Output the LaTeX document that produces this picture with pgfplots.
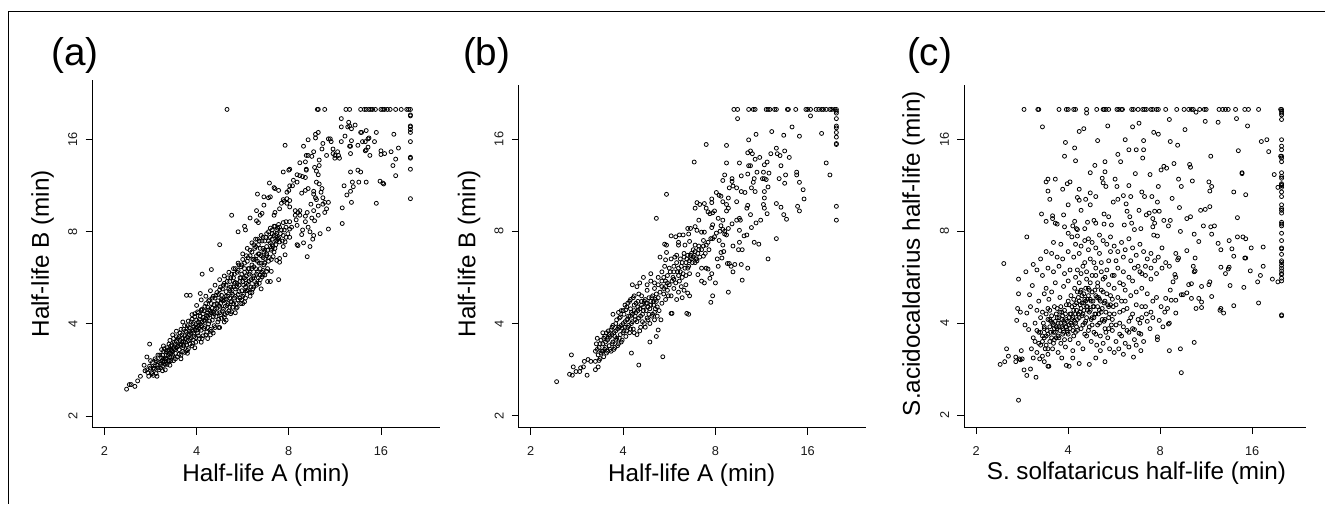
\documentclass[border=0pt]{standalone}
\usepackage{fontspec}
\setmainfont{Liberation Sans}
\usepackage{pgfplots}
\pgfplotsset{compat=1.18}
\pgfplotsset{rstyle/.style={
  scale only axis, anchor=south west,
  axis x line*=bottom, axis y line*=left,
  axis line style={-,line width=0.6pt,black},
  tick style={black,line width=0.5pt},
  major tick length=5.2pt, tick align=outside,
  xtick={1,2,3,4}, ytick={1,2,3,4},
  xticklabels={2,4,8,16}, yticklabels={2,4,8,16},
  ticklabel style={font=\fontsize{9.6}{10}\selectfont,text=black!90},
  xticklabel style={yshift=-5.5pt},
  yticklabel style={rotate=90,anchor=south,inner sep=0pt,xshift=0pt,yshift=6pt},
  clip=false},
  pts/.style={only marks,mark=o,mark size=1.5pt,mark options={line width=0.6pt,black,fill=none}}}
\newcommand{\lab}{\fontsize{18.2}{20}\selectfont}
\newcommand{\pan}{\fontsize{29}{32}\selectfont}
\begin{document}
\begin{tikzpicture}
\path (0pt,0pt) rectangle (994.5pt,-378pt);
\draw[black,line width=0.85pt] (6.2pt,-378pt) -- (6.2pt,-8.4pt) -- (994.5pt,-8.4pt);
\node at (56.2pt,-42pt) {\pan (a)};
\node at (365.2pt,-42pt) {\pan (b)};
\node at (697.5pt,-42pt) {\pan (c)};
\node at (199.5pt,-356.2pt) {\lab Half-life A (min)};
\node at (519pt,-356.2pt) {\lab Half-life A (min)};
\node at (852.7pt,-354.7pt) {\lab S. solfataricus half-life (min)};
\node[rotate=90] at (32pt,-190.5pt) {\lab Half-life B (min)};
\node[rotate=90] at (352pt,-190.5pt) {\lab Half-life B (min)};
\node[rotate=90] at (685.5pt,-190.3pt) {\lab S.acidocaldarius half-life (min)};

\begin{axis}[rstyle,at={(69.4pt,-321pt)},width=260.6pt,height=261pt,xmin=0.87,xmax=4.639,ymin=0.87,ymax=4.65]
\addplot[pts] coordinates {
(2.33,4.33)(3.31,4.33)(3.32,4.33)(3.39,4.33)(3.62,4.33)(3.66,4.33)(3.78,4.33)(3.82,4.33)(3.84,4.33)(3.87,4.33)(3.89,4.33)(3.91,4.33)(3.94,4.33)(4.00,4.33)(4.02,4.33)(4.04,4.33)(4.07,4.33)(4.10,4.33)(4.16,4.33)(4.22,4.33)(4.28,4.33)(4.30,4.33)(4.32,4.33)
(4.32,4.26)(4.32,4.27)(4.32,4.15)(4.32,4.14)(4.32,4.11)(4.32,4.08)(4.32,3.98)(4.32,3.81)(4.32,3.80)(4.32,3.68)(4.32,3.36)
(3.57,4.23)(3.57,4.14)(3.65,4.19)(3.66,4.15)(3.64,4.14)(3.68,4.12)(3.72,4.16)(3.61,4.04)(3.57,3.98)(3.68,3.99)(3.84,4.10)(3.78,4.08)(3.79,4.08)(3.86,4.01)(3.87,4.02)(3.83,3.98)(3.95,4.08)(4.14,4.06)(3.45,4.01)(3.43,4.01)(3.48,3.90)(3.53,3.87)(3.54,3.83)(3.50,3.83)(3.48,3.85)(3.55,3.80)(3.50,3.80)(3.41,3.83)(3.46,3.98)
(3.58,3.26)(3.58,3.09)(3.68,3.32)(3.63,3.40)(3.67,3.44)(3.70,3.49)(3.69,3.54)(3.60,3.50)(3.67,3.65)(3.75,3.67)(3.78,3.65)(3.76,3.54)(3.84,3.54)(3.95,3.31)(3.99,3.55)(4.02,3.53)(4.03,3.52)(4.16,3.61)(4.13,3.72)(4.16,3.79)(4.19,3.91)(4.11,3.87)(4.04,3.85)(4.00,3.84)(4.00,3.88)(3.93,3.98)(3.88,3.83)(3.84,3.89)(3.86,3.92)(3.83,3.88)(3.80,3.98)(3.75,3.94)(3.66,3.93)(3.67,3.93)(3.67,3.85)
(3.00,3.67)(3.01,3.68)(3.05,3.56)(3.09,3.62)(3.12,3.61)(3.15,3.60)(3.18,3.59)(3.09,3.54)(3.14,3.42)(3.18,3.45)(3.21,3.47)(3.12,3.75)(3.18,3.76)(3.21,3.83)(3.19,3.83)(3.25,3.82)(3.16,3.93)(3.21,4.00)(3.29,4.06)(3.32,4.08)(3.29,4.02)(3.37,3.96)(3.36,3.90)(3.27,3.87)(3.33,3.78)(3.33,3.72)(3.28,3.70)(3.30,3.66)(3.19,3.68)(3.19,3.67)(3.32,3.62)(3.30,3.54)(3.33,3.52)(3.36,3.47)(3.35,3.43)(3.27,3.44)(3.27,3.41)(3.29,3.37)(3.30,3.35)(3.24,3.30)(3.32,3.28)(3.37,3.37)(3.39,3.32)(3.43,3.32)(3.37,3.30)(3.41,3.25)(3.39,3.21)(3.32,3.18)(3.27,3.23)(3.20,3.21)(3.18,3.17)(3.25,3.15)(3.28,3.12)(3.18,3.11)(3.21,3.05)(3.15,3.02)(3.14,2.97)(3.23,3.00)(3.27,2.96)(3.34,2.98)(3.43,3.03)(3.26,2.92)(3.16,2.88)(3.23,2.84)(3.09,2.86)(3.10,2.85)(3.20,2.73)
(2.06,2.54)(2.16,2.59)(2.25,2.86)(2.38,3.18)(2.58,3.15)(2.66,3.41)(2.79,3.53)(2.84,3.48)(2.85,3.47)(2.89,3.45)(2.94,3.65)(2.96,3.94)(2.92,3.31)(2.94,3.35)(2.98,3.36)(3.01,3.34)(3.00,3.45)(2.98,3.43)(3.04,3.50)(3.01,3.50)(2.95,3.33)(2.98,3.31)(3.01,3.27)(2.90,3.25)(2.85,3.21)(2.84,3.18)(2.71,3.20)(2.69,3.18)(2.65,3.23)(2.73,3.29)(2.80,3.38)(2.78,3.37)(2.73,3.38)(2.65,3.12)(2.67,3.10)(2.52,3.06)(2.53,3.02)(2.45,3.00)
(3.07,3.23)(3.10,3.21)(3.12,3.23)(3.07,3.18)(3.12,3.18)(3.08,3.13)(3.09,3.07)(3.01,3.11)(3.03,3.05)(2.97,3.11)(2.94,3.10)(2.97,3.05)(3.01,3.03)(2.92,3.02)(2.90,3.05)(2.87,2.91)(2.90,2.89)(2.96,2.89)(2.94,2.84)(3.01,2.94)(2.99,2.98)(2.94,2.96)(2.89,2.93)(2.81,2.82)(2.85,2.82)(2.83,2.73)(2.87,2.69)(2.90,2.71)(2.96,2.75)(2.90,2.67)(2.74,2.71)(2.76,2.74)(2.81,2.70)(2.69,2.53)(2.74,2.53)(2.71,2.51)(2.76,2.57)(2.62,2.40)(2.65,2.42)(2.56,2.37)(2.54,2.44)
(2.89,2.48)(2.77,2.46)(2.80,2.46)(2.49,2.26)(2.25,1.96)(2.37,2.11)(2.38,2.24)(2.72,2.53)(2.81,2.57)
(1.24,1.29)(1.27,1.34)(1.29,1.34)(1.33,1.32)(1.36,1.38)(1.39,1.43)(1.43,1.55)(1.44,1.49)(1.46,1.64)(1.49,1.78)
(1.46,1.50)(1.48,1.43)(1.49,1.54)(1.51,1.47)(1.52,1.58)(1.53,1.44)(1.54,1.51)(1.55,1.62)(1.56,1.46)(1.57,1.43)(1.57,1.55)(1.58,1.66)(1.59,1.50)(1.60,1.58)(1.61,1.52)(1.62,1.63)(1.63,1.54)(1.64,1.70)(1.65,1.59)(1.66,1.50)(1.67,1.66)(1.68,1.74)(1.69,1.60)(1.70,1.68)(1.71,1.55)(1.72,1.76)(1.73,1.64)(1.74,1.70)(1.75,1.60)(1.76,1.80)(1.77,1.68)(1.78,1.74)(1.79,1.64)(1.80,1.84)(1.81,1.72)(1.82,1.78)(1.83,1.66)(1.84,1.88)(1.85,1.74)(1.86,1.81)(1.87,1.69)(1.88,1.92)(1.89,1.77)(1.90,1.86)(1.91,1.73)(1.92,1.96)(1.93,1.83)(1.94,1.90)(1.95,1.76)(1.96,2.00)(1.97,1.86)(1.98,1.94)(1.99,1.80)(2.00,2.04)(2.01,1.90)(2.02,1.98)(2.03,1.84)(2.04,2.08)(2.05,1.93)(2.06,2.02)(2.07,1.87)(2.08,2.14)(2.09,1.97)(2.10,2.06)(2.11,1.91)(2.12,2.18)(2.13,2.00)(2.14,2.10)(2.15,1.94)(2.16,2.22)(2.17,2.04)(2.18,2.13)(2.19,1.98)(2.20,2.28)(2.21,2.08)(2.22,2.17)(2.23,2.02)(2.24,2.32)(2.25,2.12)(2.26,2.22)(2.27,2.06)(2.28,2.38)(2.29,2.16)(2.30,2.26)(2.31,2.10)(2.32,2.42)(2.33,2.20)(2.34,2.30)(2.35,2.14)(2.36,2.46)(2.37,2.24)(2.38,2.34)(2.39,2.18)(2.40,2.50)(2.41,2.28)(2.42,2.38)(2.43,2.22)(2.44,2.56)(2.45,2.32)(2.46,2.42)(2.47,2.28)(2.48,2.62)(2.49,2.36)(2.50,2.46)(2.51,2.32)(2.52,2.66)(2.53,2.40)(2.54,2.52)(2.55,2.36)(2.56,2.72)(2.57,2.46)(2.58,2.56)(2.59,2.40)(2.60,2.78)(2.61,2.50)(2.62,2.62)(2.63,2.46)(2.64,2.84)(2.65,2.54)(2.66,2.68)(2.67,2.50)(2.68,2.90)(2.69,2.60)(2.70,2.74)(2.71,2.56)(2.72,2.94)(2.73,2.64)(2.74,2.80)(2.76,2.98)(2.78,2.68)(2.80,2.88)(2.82,3.02)(2.84,2.78)(2.86,2.96)(2.88,3.04)
(1.62,1.72)(1.66,1.62)(1.70,1.78)(1.72,1.68)(1.76,1.72)(1.78,1.86)(1.80,1.76)(1.82,1.90)(1.84,1.80)(1.86,1.94)(1.88,1.84)(1.90,1.98)(1.92,1.88)(1.94,2.02)(1.96,1.92)(1.98,2.08)(2.00,1.96)(2.02,2.12)(2.04,2.00)(2.06,2.16)(2.08,2.04)(2.10,2.22)(2.12,2.08)(2.14,2.26)(2.16,2.12)(2.18,2.30)(2.20,2.16)(2.22,2.34)(2.24,2.20)(2.26,2.40)(2.28,2.26)(2.30,2.44)(2.32,2.30)(2.34,2.50)(2.36,2.36)(2.38,2.54)(2.40,2.40)(2.42,2.60)(2.44,2.44)(2.46,2.64)(2.48,2.50)(2.50,2.70)(2.52,2.56)(2.54,2.74)(2.56,2.60)(2.58,2.80)(2.60,2.64)(2.62,2.86)(2.64,2.70)(2.66,2.92)(2.68,2.76)(2.70,2.96)(2.72,2.82)(2.74,2.90)(2.76,2.84)(2.78,3.00)(2.80,2.94)(2.82,2.86)(2.84,3.06)(2.86,2.90)
(1.64,1.76)(1.74,1.88)(1.78,1.92)(1.85,2.02)(1.89,2.31)(1.93,2.31)(2.04,2.33)(1.95,2.10)(2.00,2.20)(2.05,2.26)(2.10,2.30)(2.15,2.36)(2.20,2.42)(2.25,2.48)(2.30,2.52)(2.35,2.56)(2.40,2.60)(2.45,2.66)(2.50,2.76)(2.55,2.82)(2.60,2.88)(2.64,2.92)
(1.83,1.62)(1.90,1.68)(1.98,1.74)(2.05,1.80)(2.12,1.84)(2.15,1.88)(2.18,1.90)(2.24,1.96)(2.30,2.02)(2.32,2.04)(2.42,2.12)(2.44,2.18)(2.50,2.22)(2.52,2.24)(2.58,2.30)(2.60,2.34)(2.68,2.44)(2.70,2.38)
(1.47,1.47)(1.50,1.60)(1.53,1.52)(1.58,1.59)(1.63,1.60)(1.67,1.70)(1.72,1.72)(1.77,1.78)(1.82,1.82)(1.87,1.87)(1.92,1.92)(1.97,1.97)(2.02,2.02)(2.07,2.07)(2.12,2.12)(2.17,2.17)(2.22,2.22)(2.27,2.27)(2.32,2.35)(2.37,2.40)(2.42,2.45)(2.47,2.50)(2.52,2.50)(2.57,2.60)(2.62,2.70)(2.67,2.76)(2.72,2.72)(2.77,2.80)(2.82,2.92)(2.87,2.98)
(1.63,1.66)(1.65,1.73)(1.67,1.58)(1.69,1.71)(1.71,1.64)(1.71,1.82)(1.73,1.77)(1.75,1.73)(1.75,1.84)(1.77,1.62)(1.78,1.81)(1.79,1.75)(1.81,1.86)(1.81,1.67)(1.83,1.77)(1.83,1.94)(1.85,1.84)(1.85,1.70)(1.86,1.76)(1.87,1.98)(1.88,1.80)(1.89,1.91)(1.90,1.71)(1.91,1.82)(1.91,2.03)(1.93,1.95)(1.93,1.78)(1.94,1.85)(1.95,2.05)(1.96,1.79)(1.97,1.90)(1.98,2.11)(1.99,1.99)(1.99,1.85)(2.00,1.93)(2.01,2.13)(2.02,1.87)(2.03,2.05)(2.03,1.95)(2.05,2.15)(2.05,1.98)(2.06,1.84)(2.07,2.11)(2.08,1.95)(2.09,2.19)(2.09,2.03)(2.10,1.88)(2.11,2.09)(2.12,1.96)(2.13,2.25)(2.13,2.15)(2.14,2.03)(2.15,2.14)(2.16,1.92)(2.17,2.28)(2.18,2.08)(2.19,2.21)(2.19,2.11)(2.20,1.96)(2.21,2.31)(2.22,2.12)(2.23,2.25)(2.24,2.05)(2.25,2.19)(2.25,2.37)(2.26,2.10)(2.27,2.31)(2.28,2.14)(2.29,2.25)(2.29,2.42)(2.30,2.07)(2.31,2.19)(2.32,2.27)(2.33,2.46)(2.33,2.12)(2.34,2.22)(2.35,2.38)(2.36,2.18)(2.36,2.28)(2.37,2.50)(2.38,2.13)(2.39,2.32)(2.40,2.22)(2.41,2.44)(2.41,2.54)(2.42,2.30)(2.43,2.17)(2.44,2.40)(2.45,2.26)(2.45,2.58)(2.46,2.35)(2.47,2.46)(2.48,2.22)(2.49,2.54)(2.49,2.64)(2.50,2.30)(2.51,2.42)(2.52,2.60)(2.53,2.28)(2.53,2.48)(2.54,2.36)(2.55,2.68)(2.56,2.43)(2.57,2.54)(2.58,2.34)(2.58,2.74)(2.59,2.48)(2.60,2.60)(2.61,2.38)(2.61,2.70)(2.62,2.52)(2.63,2.82)(2.64,2.60)(2.65,2.44)(2.65,2.74)(2.66,2.56)(2.67,2.86)(2.68,2.66)(2.69,2.48)(2.69,2.82)(2.70,2.66)(2.71,2.90)(2.72,2.58)(2.73,2.78)(2.74,2.66)(2.75,2.94)(2.76,2.76)(2.77,2.60)(2.78,2.90)(2.79,2.72)(2.80,3.04)(2.81,2.80)(2.82,2.98)(2.83,2.84)(2.84,2.96)(2.85,3.06)(2.86,2.86)(2.87,3.02)(2.88,2.92)(2.89,3.08)(2.91,2.98)(2.93,2.90)(2.95,3.02)(2.97,2.94)
(1.50,1.52)(1.52,1.46)(1.55,1.54)(1.56,1.60)(1.58,1.52)(1.60,1.66)(1.61,1.56)(1.63,1.49)(1.64,1.62)(1.66,1.56)(1.67,1.62)(1.68,1.56)(1.69,1.66)(1.70,1.60)(1.70,1.72)(1.72,1.60)(1.73,1.71)(1.74,1.66)
};
\end{axis}

\begin{axis}[rstyle,at={(389.25pt,-321pt)},width=260.8pt,height=257.25pt,xmin=0.87,xmax=4.635,ymin=0.87,ymax=4.585]
\addplot[pts] coordinates {
(3.20,4.32)(3.24,4.32)(3.36,4.32)(3.41,4.32)(3.43,4.32)(3.55,4.32)(3.57,4.32)(3.59,4.32)(3.64,4.32)(3.66,4.32)(3.78,4.32)(3.79,4.32)(3.87,4.32)(3.98,4.32)(4.00,4.32)(4.03,4.32)(4.09,4.32)(4.12,4.32)(4.15,4.32)(4.17,4.32)(4.20,4.32)(4.24,4.32)(4.26,4.32)(4.29,4.32)(4.31,4.32)
(4.31,4.30)(4.31,4.28)(4.31,4.22)(4.31,4.14)(4.31,4.12)(4.31,4.07)(4.31,4.02)(4.31,3.95)(4.31,3.94)(4.31,3.27)(4.31,3.12)
(3.24,4.22)(4.03,4.25)(3.83,4.13)(3.61,4.08)(3.74,4.04)(3.91,4.03)(4.15,4.06)(3.44,4.05)(3.36,3.99)(2.90,3.94)(3.12,3.93)(2.77,3.75)(3.12,3.74)(3.26,3.74)(3.66,3.90)(3.75,3.87)(3.67,3.84)(3.60,3.84)(3.48,3.80)(3.80,3.80)(3.70,3.82)(3.35,3.85)(3.38,3.87)(3.40,3.84)(3.43,3.78)(3.56,3.75)(3.53,3.72)(3.71,3.71)(3.36,3.71)(3.38,3.71)(4.20,3.74)(4.24,3.61)(3.88,3.64)(3.88,3.61)(3.76,3.61)(3.91,3.53)(3.75,3.52)(3.69,3.57)(3.58,3.63)(3.52,3.64)(3.45,3.64)(3.53,3.57)(3.51,3.57)(3.55,3.56)(3.42,3.57)(3.41,3.53)(3.39,3.47)(3.43,3.43)(3.28,3.60)(3.35,3.62)(3.10,3.61)(3.18,3.57)(3.08,3.55)(3.18,3.54)(3.15,3.47)(3.19,3.49)(3.23,3.47)(3.28,3.43)(3.32,3.42)(3.57,3.48)(3.53,3.43)(3.53,3.36)(3.95,3.45)(3.96,3.35)(3.89,3.27)(3.91,3.22)(3.52,3.29)(3.66,3.30)(3.71,3.26)(3.74,3.18)(3.77,3.13)(3.56,3.19)(3.53,3.25)(3.23,3.32)(3.34,3.25)(3.35,3.28)(3.38,3.18)(3.49,3.12)(3.44,3.09)(3.39,3.04)(3.26,3.14)(3.27,3.12)(3.23,3.12)(3.18,3.08)(3.26,3.01)(3.34,2.96)(3.31,2.95)(3.26,2.88)(3.19,2.84)(3.25,2.80)(3.29,2.80)(3.42,2.88)(3.47,2.86)(3.66,2.92)(3.57,2.70)(3.28,2.64)(3.35,2.60)(3.29,2.47)(3.14,2.34)(3.19,2.56)(3.17,2.62)(3.15,2.65)(3.21,2.64)
(3.01,3.42)(3.04,3.39)(3.06,3.38)(2.96,3.35)(2.96,3.31)(2.88,3.30)(2.80,3.31)(2.83,3.29)(2.78,3.25)(2.90,3.25)(2.92,3.21)(2.94,3.19)(2.99,3.22)(2.97,3.20)(3.03,3.14)(3.08,3.12)(2.82,3.12)(3.12,3.29)(3.14,3.25)(3.12,3.22)(3.14,3.36)(3.08,3.32)(2.47,3.40)(2.36,3.14)(2.52,2.95)(2.57,2.94)(2.61,2.96)(2.65,2.96)(2.71,2.97)(2.70,3.03)(2.73,3.03)(2.78,3.05)(2.80,3.01)(2.85,2.99)(2.88,2.99)(2.97,3.07)(2.96,3.04)(3.06,3.06)(3.08,3.02)(3.10,3.00)(3.14,3.03)(3.05,3.00)(3.01,2.98)(2.99,2.94)(2.97,2.92)(3.10,2.97)(3.12,2.96)(3.04,2.90)(3.08,2.85)(3.06,2.77)(3.09,2.78)(3.02,2.70)(3.07,2.71)(3.03,2.62)(3.13,2.65)(3.00,2.44)(2.97,2.30)(2.95,2.23)(2.96,2.54)(2.94,2.49)(2.88,2.44)(2.85,2.46)(2.81,2.53)(2.85,2.60)(2.92,2.59)(2.90,2.60)(2.87,2.73)(2.81,2.76)(2.90,2.85)(2.92,2.88)(2.87,2.90)(2.78,2.85)(2.72,2.89)(2.67,2.85)(2.60,2.85)(2.60,2.88)(2.47,2.85)(2.45,2.86)(2.47,2.77)(2.40,2.72)(2.46,2.69)(2.45,2.62)
(1.28,1.37)(1.44,1.66)(1.42,1.45)(1.46,1.53)(1.45,1.44)(1.49,1.48)(1.53,1.48)(1.54,1.52)(1.57,1.53)(1.58,1.59)(1.61,1.44)(1.62,1.61)(1.65,1.59)(1.70,1.59)(1.70,1.50)(1.73,1.53)(2.17,1.55)(2.09,1.68)(2.43,1.64)(2.29,1.80)(2.36,1.86)(2.38,1.93)(2.52,2.11)(2.53,2.11)(2.69,2.11)(2.71,2.10)(1.89,2.10)
(1.70,1.70)(1.71,1.78)(1.73,1.66)(1.74,1.74)(1.75,1.62)(1.76,1.82)(1.77,1.70)(1.78,1.78)(1.79,1.64)(1.80,1.86)(1.81,1.74)(1.82,1.68)(1.83,1.82)(1.84,1.92)(1.85,1.76)(1.86,1.86)(1.87,1.70)(1.88,1.96)(1.89,1.80)(1.90,1.90)(1.91,1.74)(1.92,2.00)(1.93,1.84)(1.94,1.94)(1.95,1.78)(1.96,2.06)(1.97,1.88)(1.98,1.98)(1.99,1.82)(2.00,2.14)(2.01,1.92)(2.02,2.02)(2.03,1.86)(2.04,2.18)(2.05,1.96)(2.06,2.08)(2.07,1.90)(2.08,2.16)(2.09,2.00)(2.10,2.10)(2.11,1.94)(2.12,2.20)(2.13,2.04)(2.14,2.12)(2.15,1.88)(2.16,2.24)(2.17,2.06)(2.18,2.16)(2.19,1.96)(2.20,2.24)(2.21,2.10)(2.22,2.18)(2.23,2.00)(2.24,2.26)(2.25,2.14)(2.26,2.22)(2.27,2.04)(2.28,2.28)(2.29,2.16)(2.30,2.24)(2.31,2.08)(2.32,2.30)(2.33,2.20)(2.34,2.12)(2.35,2.26)(2.36,2.32)(2.37,2.18)
(1.72,1.84)(1.78,1.90)(1.84,1.84)(1.88,1.88)(1.92,1.92)(1.96,1.96)(2.00,2.00)(2.04,2.04)(2.08,2.08)(2.12,2.14)(2.16,2.18)(2.20,2.20)(2.05,2.22)(2.08,2.26)(2.02,2.20)(1.98,2.14)(1.95,2.12)(2.12,2.30)(2.15,2.40)(2.10,2.42)(2.18,2.44)(2.22,2.50)(2.26,2.42)(2.30,2.54)(2.34,2.44)(2.38,2.50)(2.42,2.56)(2.46,2.46)(2.50,2.60)(2.54,2.50)(2.58,2.66)(2.62,2.56)(2.66,2.72)(2.70,2.60)(2.74,2.76)(2.78,2.66)(2.82,2.84)
(2.26,2.36)(2.30,2.46)(2.34,2.38)(2.38,2.42)(2.42,2.46)(2.44,2.38)(2.48,2.52)(2.50,2.42)(2.52,2.70)(2.55,2.62)(2.56,2.72)(2.58,2.74)(2.60,2.60)(2.62,2.70)(2.64,2.66)(2.66,2.76)(2.68,2.66)(2.70,2.74)(2.72,2.68)(2.74,2.70)(2.76,2.72)(2.78,2.78)(2.80,2.68)(2.82,2.80)(2.76,2.80)(2.55,2.38)(2.60,2.34)(2.63,2.40)(2.66,2.36)(2.68,2.42)(2.72,2.30)(2.70,2.33)(2.64,2.28)(2.58,2.26)(2.52,2.30)(2.46,2.26)(2.42,2.22)(2.44,2.32)(2.48,2.36)(2.55,2.48)(2.60,2.52)(2.64,2.50)(2.68,2.52)(2.72,2.54)
(1.72,1.72)(1.74,1.60)(1.75,1.78)(1.76,1.68)(1.78,1.70)(1.79,1.84)(1.80,1.72)(1.81,1.80)(1.82,1.90)(1.83,1.70)(1.85,1.88)(1.86,1.72)(1.87,1.93)(1.88,1.78)(1.89,1.98)(1.90,1.72)(1.91,1.86)(1.92,1.82)(1.93,2.04)(1.94,1.76)(1.95,1.96)(1.96,1.84)(1.97,2.07)(1.98,1.80)(1.99,1.95)(2.00,1.90)(2.01,2.10)(2.02,1.96)(2.03,2.15)(2.04,1.92)(2.05,2.05)(2.06,1.98)(2.07,2.24)(2.08,1.94)(2.09,2.12)(2.10,2.02)(2.11,2.28)(2.12,1.90)(2.13,2.08)(2.14,2.22)(2.15,2.02)(2.16,2.14)(2.17,2.32)(2.18,1.92)(2.19,2.08)(2.20,2.30)(2.21,2.02)(2.22,2.14)(2.23,2.24)(2.24,1.96)(2.25,2.22)(2.26,2.06)(2.27,2.18)(2.28,2.10)(2.29,2.00)(2.30,2.20)(2.31,2.28)(2.32,2.10)(2.33,2.24)(2.34,2.04)(2.35,2.16)(2.36,2.24)(2.37,2.08)(2.38,2.28)(2.39,2.14)(2.40,2.34)(2.41,2.04)(2.42,2.40)(2.44,2.50)(2.46,2.40)(2.48,2.44)(2.49,2.30)(2.51,2.56)(2.53,2.46)(2.55,2.56)(2.57,2.44)(2.59,2.56)(2.61,2.46)(2.63,2.62)(2.65,2.54)(2.67,2.60)(2.69,2.70)(2.71,2.62)(2.73,2.74)(2.75,2.66)(2.77,2.74)(2.79,2.70)(2.83,2.72)(2.85,2.80)(2.87,2.84)(2.89,2.76)(2.93,2.80)(2.95,2.92)
};
\end{axis}

\begin{axis}[rstyle,at={(723.5pt,-320.5pt)},width=256.5pt,height=256.7pt,xmin=0.87,xmax=4.587,ymin=0.866,ymax=4.596]
\addplot[pts] coordinates {
(1.52,4.33)(1.67,4.33)(1.68,4.33)(1.90,4.33)(1.98,4.33)(2.00,4.33)(2.06,4.33)(2.08,4.33)(2.20,4.33)(2.20,4.29)(2.31,4.33)(2.38,4.33)(2.39,4.33)(2.41,4.33)(2.44,4.33)(2.53,4.33)(2.55,4.33)(2.58,4.33)(2.59,4.33)(2.69,4.33)(2.71,4.33)(2.76,4.33)(2.81,4.33)(2.83,4.33)(2.85,4.33)(2.90,4.33)(2.92,4.33)(2.96,4.33)(2.98,4.33)(3.06,4.33)(3.18,4.33)(3.26,4.33)(3.31,4.33)(3.34,4.33)(3.36,4.33)(3.39,4.30)(3.43,4.33)(3.48,4.33)(3.50,4.33)(3.64,4.33)(3.68,4.33)(3.71,4.33)(3.74,4.33)(3.82,4.33)(3.92,4.33)(3.96,4.33)(4.07,4.33)(4.31,4.33)
(4.32,4.33)(4.32,4.31)(4.32,4.29)(4.32,4.27)(4.32,4.22)(4.32,4.00)(4.32,3.93)(4.32,3.89)(4.32,3.82)(4.31,3.82)(4.32,3.80)(4.32,3.76)(4.32,3.64)(4.32,3.60)(4.32,3.58)(4.32,3.52)(4.32,3.51)(4.32,3.50)(4.32,3.48)(4.32,3.43)(4.32,3.38)(4.32,3.29)(4.32,3.25)(4.32,3.23)(4.32,3.20)(4.32,3.10)(4.32,3.08)(4.32,3.06)(4.32,2.98)(4.32,2.90)(4.32,2.82)(4.32,2.81)(4.32,2.75)(4.32,2.68)(4.32,2.66)(4.32,2.63)(4.32,2.60)(4.32,2.57)(4.32,2.54)(4.32,2.53)(4.32,2.49)(4.32,2.46)(4.32,2.09)(4.32,2.08)
(4.24,3.62)(4.28,3.48)(4.10,3.98)(4.16,4.00)(4.18,3.87)(3.95,4.15)(3.83,4.23)(3.85,3.88)(3.63,4.19)(3.49,4.20)(3.55,3.82)(3.27,4.11)(3.19,3.94)(3.11,3.98)(3.10,4.22)(2.98,4.06)(2.93,4.08)(2.62,4.00)(2.82,3.99)(2.74,3.89)(2.66,3.89)(2.82,3.89)(2.81,3.80)(2.54,3.84)(2.57,3.76)(2.77,4.18)(2.70,4.14)(2.43,4.15)(2.32,3.99)(2.17,4.12)(2.12,4.09)(1.72,4.14)(2.07,3.91)(1.97,3.97)(1.96,3.82)(2.08,3.77)(2.29,3.72)(2.40,3.76)(2.40,3.65)(2.24,3.64)(2.37,3.58)(2.38,3.53)(2.41,3.49)(2.51,3.57)(2.53,3.49)(2.66,3.50)(2.73,3.63)(2.89,3.62)(2.98,3.49)(3.01,3.67)(3.04,3.71)(3.07,3.69)(3.15,3.74)(3.20,3.57)(3.23,3.49)(3.32,3.73)(3.33,3.70)(3.35,3.55)(3.53,3.54)(3.56,3.49)(3.54,3.44)(3.80,3.43)(3.93,3.40)(3.89,3.64)(3.89,3.63)
(1.76,3.54)(1.78,3.57)(1.86,3.57)(2.02,3.54)(1.99,3.52)(1.78,3.44)(1.94,3.46)(2.12,3.46)(2.24,3.42)(1.80,3.35)(2.10,3.37)(2.12,3.34)(2.19,3.35)(2.24,3.29)(2.30,3.38)(2.49,3.32)(2.54,3.35)(2.60,3.39)(2.68,3.38)(2.63,3.30)(2.64,3.22)(2.77,3.23)(2.80,3.43)(2.83,3.38)(2.91,3.38)(2.97,3.32)(3.13,3.36)(3.21,3.26)(2.00,3.29)(2.14,3.23)(1.71,3.19)(1.83,3.17)(1.83,3.14)(1.95,3.18)(1.76,3.11)(1.86,3.09)(1.88,3.08)(2.07,3.11)(1.96,3.05)(2.05,3.06)(2.09,3.03)(2.10,3.02)(2.18,3.03)(2.21,3.10)(2.28,3.12)(2.30,3.09)(2.39,3.19)(2.44,3.16)(2.39,3.08)(2.47,3.07)(2.61,3.07)(2.69,3.09)(2.67,3.16)(2.72,3.02)(2.79,3.03)(2.85,3.18)(2.88,3.20)(2.92,3.14)(2.94,3.22)(2.99,3.22)(3.04,3.12)(3.11,3.12)(3.09,3.06)(2.94,3.09)(2.92,3.05)(2.93,2.96)(2.97,2.95)(3.22,3.00)(3.29,3.14)(3.33,3.16)(3.44,3.23)(3.49,3.24)(3.54,3.27)(3.47,3.06)(3.55,3.05)(3.59,3.06)(3.56,2.97)(3.37,2.97)(3.42,2.89)(3.63,2.87)(3.66,2.80)(3.75,2.90)(3.84,3.15)(3.84,2.94)(3.90,2.94)(3.93,2.92)(3.99,2.82)(4.12,2.83)(3.78,2.81)(3.80,2.73)(3.92,2.71)(3.93,2.71)(4.12,2.62)(3.98,2.57)(3.75,2.61)(3.66,2.61)(3.71,2.54)(3.74,2.59)(4.09,2.52)(4.06,2.45)(4.22,2.48)(4.28,2.45)(3.91,2.39)(3.76,2.41)(4.07,2.22)(3.80,2.19)(3.66,2.16)(3.65,2.14)(3.69,2.11)(3.56,2.29)(3.53,2.42)(3.54,2.45)(3.45,2.40)(3.38,2.57)(3.37,2.56)(3.36,2.62)(3.34,2.43)(3.31,2.42)(3.29,2.33)(3.25,2.31)(3.23,2.31)(3.38,2.71)(3.29,2.79)(3.17,2.76)(3.20,2.71)(3.19,2.69)(3.16,2.53)(3.17,2.50)(3.14,2.45)(3.34,2.27)(3.42,2.27)(3.45,2.23)(3.39,2.16)(3.45,2.17)
(3.37,1.79)(3.22,1.72)(3.10,1.70)(3.23,1.46)(2.79,1.70)(2.71,1.63)(2.97,1.85)(2.97,1.82)(2.99,2.03)(3.09,1.99)(3.10,2.00)(3.03,1.96)(3.08,2.16)(3.17,2.11)(3.05,2.12)(3.01,2.18)(3.06,2.27)(3.11,2.36)(3.12,2.25)(3.17,2.25)(2.89,1.94)(2.85,2.10)(2.80,2.18)(2.76,2.04)(2.78,2.00)(2.77,1.89)(2.79,1.88)(2.72,1.93)(2.70,1.94)(2.66,1.90)
(1.46,1.16)(1.26,1.55)(1.31,1.58)(1.35,1.64)(1.33,1.72)(1.30,2.65)(1.55,2.94)(1.46,2.48)(1.46,2.32)(1.45,2.16)(1.48,2.12)(1.44,2.03)(1.43,1.63)(1.43,1.58)(1.49,1.70)(1.50,1.61)(1.48,1.60)(1.47,1.61)(1.52,1.49)(1.55,1.43)(1.59,1.50)(1.65,1.41)(1.62,1.62)(1.69,1.61)(1.74,1.58)(1.78,1.53)(1.79,1.53)(1.93,1.62)(2.05,1.62)(1.98,1.54)(2.01,1.53)(2.12,1.56)(2.23,1.55)(1.54,2.56)(1.62,2.64)(1.61,2.41)(1.58,2.31)(1.59,2.18)(1.55,2.11)(1.53,1.98)(1.57,1.93)
(2.00,2.98)(2.04,2.94)(2.10,2.95)(2.14,2.84)(2.18,2.90)(2.22,2.92)(2.26,2.88)(2.30,2.82)(2.34,2.96)(2.38,2.90)(2.42,2.86)(2.46,2.94)(2.50,2.84)(2.54,2.78)(2.58,2.88)(2.62,2.80)(2.66,2.92)(2.70,2.82)(2.74,2.74)(2.78,2.86)(2.82,2.78)(2.86,2.70)(2.90,2.76)(2.94,2.68)(2.98,2.72)(3.02,2.82)(3.06,2.66)(3.10,2.62)(3.02,2.60)(2.96,2.54)(2.90,2.48)(2.84,2.52)(2.78,2.56)(2.72,2.60)(2.66,2.50)(2.60,2.56)(2.54,2.60)(2.48,2.52)(2.42,2.58)(2.36,2.66)(2.30,2.60)(2.24,2.70)(2.18,2.66)(2.12,2.76)(2.06,2.72)(2.00,2.78)(1.94,2.70)(1.88,2.72)(1.82,2.76)(1.76,2.78)(1.70,2.70)(1.66,2.58)(1.72,2.52)(1.78,2.60)(1.84,2.56)(1.90,2.62)(1.96,2.54)(2.02,2.58)(2.08,2.50)(2.14,2.54)(2.20,2.48)(2.26,2.52)(2.32,2.44)(2.38,2.48)(2.44,2.42)(2.50,2.38)(2.56,2.44)(2.62,2.36)(2.68,2.30)(2.74,2.34)(2.80,2.38)(2.86,2.32)(2.92,2.24)(2.96,2.28)(2.90,2.12)(2.84,2.18)(2.74,2.20)(2.64,2.16)(2.58,2.24)(2.52,2.20)(2.46,2.30)
(1.60,1.72)(1.64,1.80)(1.66,1.68)(1.68,1.90)(1.70,1.76)(1.72,1.64)(1.73,2.00)(1.74,1.84)(1.75,1.72)(1.76,2.10)(1.77,1.92)(1.78,1.66)(1.79,2.26)(1.80,1.80)(1.81,2.02)(1.82,2.34)(1.83,1.72)(1.84,1.90)(1.85,2.18)(1.86,2.44)(1.87,1.84)(1.88,2.06)(1.89,1.68)(1.90,1.96)(1.91,2.28)(1.92,1.78)(1.93,2.12)(1.94,1.88)(1.95,2.40)(1.96,2.00)(1.97,1.74)(1.98,2.20)(1.99,1.92)(2.00,2.46)(2.01,2.06)(2.02,1.82)(2.03,2.30)(2.04,1.98)(2.05,1.70)(2.06,2.14)(2.07,2.38)(2.08,1.90)(2.09,2.22)(2.10,2.04)(2.11,1.78)(2.12,2.44)(2.13,2.12)(2.14,1.94)(2.15,2.30)(2.16,1.72)(2.17,2.22)(2.18,2.00)(2.19,2.38)(2.20,1.86)(2.21,2.14)(2.22,2.30)(2.23,1.96)(2.24,2.44)(2.25,1.80)(2.26,2.06)(2.27,2.24)(2.28,1.90)(2.29,2.36)(2.30,2.10)(2.31,1.76)(2.32,1.98)(2.33,2.28)(2.34,2.14)(2.35,1.86)(2.36,2.36)(2.37,2.04)(2.38,1.78)(2.39,2.22)(2.40,1.94)(2.41,2.12)(2.42,2.32)(2.43,1.84)(2.44,2.06)(2.46,2.20)(2.48,1.92)(2.50,2.10)(2.52,1.80)(2.54,2.28)(2.56,2.00)(2.58,1.86)(2.60,2.14)(2.62,2.24)(2.64,1.92)(2.68,2.06)(2.72,1.82)
(1.66,1.92)(1.68,1.78)(1.70,2.06)(1.72,1.86)(1.74,1.96)(1.76,1.76)(1.78,2.04)(1.78,1.88)(1.80,1.96)(1.80,2.14)(1.82,1.84)(1.82,2.08)(1.84,1.98)(1.84,1.78)(1.86,2.02)(1.86,1.90)(1.88,2.16)(1.88,1.94)(1.90,2.06)(1.90,1.84)(1.92,2.00)(1.92,2.18)(1.94,1.94)(1.94,2.08)(1.96,1.82)(1.96,2.14)(1.98,1.96)(1.98,2.04)(2.00,1.88)(2.00,2.24)(2.02,2.10)(2.02,1.94)(2.04,2.18)(2.04,2.04)(2.06,1.86)(2.06,2.26)(2.08,2.00)(2.08,2.10)(2.10,2.34)(2.10,1.92)(2.12,2.06)(2.12,2.24)(2.14,2.16)(2.14,2.36)(2.16,1.98)(2.16,2.10)(2.18,2.26)(2.18,1.88)(2.20,2.06)(2.20,2.18)(2.22,1.92)(2.22,2.38)(2.24,2.14)(2.24,2.26)(2.26,1.98)(2.26,2.34)(2.28,2.18)(2.28,2.06)(2.30,2.30)(2.30,1.88)(2.32,2.18)(2.32,2.40)(2.34,2.00)(2.34,2.26)(2.36,2.12)(2.38,2.34)(2.40,2.04)(2.40,2.24)(2.44,2.18)(2.44,1.94)(2.48,2.26)(2.48,2.04)
(2.20,2.56)(2.16,2.62)(2.10,2.58)(2.28,2.66)(2.36,2.56)(2.44,2.68)(2.52,2.68)(2.60,2.72)(2.68,2.68)(2.76,2.62)(2.84,2.62)(2.90,2.60)(2.46,2.78)(2.34,2.76)(2.22,2.80)(2.08,2.86)(1.92,2.86)(1.84,2.88)
(1.72,1.80)(1.74,1.94)(1.76,1.86)(1.78,1.72)(1.80,2.04)(1.81,1.90)(1.83,2.00)(1.85,1.94)(1.85,1.82)(1.87,2.10)(1.87,1.96)(1.89,2.00)(1.89,1.86)(1.91,1.92)(1.91,2.12)(1.93,2.04)(1.93,1.96)(1.95,1.90)(1.95,2.02)(1.97,2.10)(1.97,1.96)(1.99,2.02)(1.99,1.90)(2.01,1.98)(2.01,2.20)(2.03,2.10)(2.03,2.00)(2.05,2.06)(2.05,1.92)(2.07,2.20)(2.07,2.02)(2.09,2.14)(2.09,1.96)(2.11,2.28)(2.11,2.10)(2.13,2.20)(2.13,2.34)(2.15,2.08)(2.15,2.22)(2.17,2.32)(2.17,2.14)(2.19,2.24)(2.19,2.02)(2.21,2.26)(2.21,2.18)(2.23,2.12)(2.23,2.36)(2.25,2.24)(2.25,2.04)(2.27,2.18)(2.29,2.10)(2.31,2.28)(2.33,2.10)(2.35,2.24)(2.37,2.16)(2.39,2.02)(2.41,1.90)(2.43,2.20)(2.45,2.10)(2.47,1.98)(2.49,2.18)(1.62,1.84)(1.64,2.00)(1.66,2.14)(1.68,2.24)(1.70,1.90)(1.72,2.12)(1.74,2.32)(1.76,2.38)(1.78,2.16)(2.30,2.52)(2.40,2.50)(2.50,2.52)(2.60,2.42)(2.70,2.46)(2.80,2.54)
(2.55,1.72)(2.62,1.78)(2.50,1.68)(2.45,1.72)(2.35,1.70)(2.30,1.62)(2.40,1.58)(2.60,1.66)(2.66,1.74)(2.74,1.76)(2.82,1.80)(2.56,2.12)(2.66,2.02)(2.70,2.10)(2.80,2.06)(2.86,2.02)(2.92,2.06)(2.60,1.96)(2.52,1.98)(2.56,1.88)
};
\end{axis}
\end{tikzpicture}
\end{document}
